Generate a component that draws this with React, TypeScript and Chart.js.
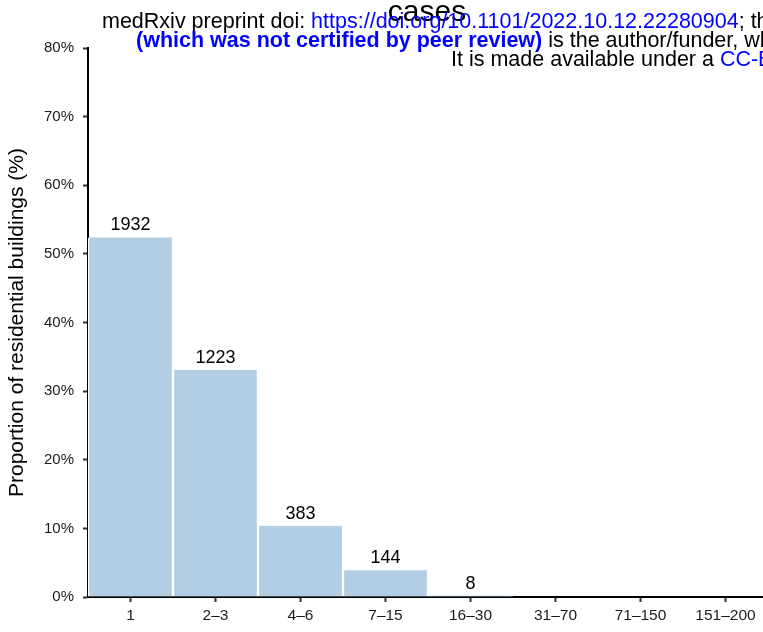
import React, { useEffect, useRef } from "react";
import { Chart, registerables } from "chart.js";

Chart.register(...registerables);

const categories = ["1", "2–3", "4–6", "7–15", "16–30", "31–70", "71–150", "151–200"];
const proportions = [52.4, 33.1, 10.4, 3.9, 0.2, 0, 0, 0];
const counts: (number | null)[] = [1932, 1223, 383, 144, 8, null, null, null];
const yTicks = [0, 10, 20, 30, 40, 50, 60, 70, 80];

const chartTitle = "cases";
const yTitle = "Proportion of residential buildings (%)";

const FONT = "'Liberation Sans', Arial, Helvetica, sans-serif";

const overlayPlugin = {
  id: "overlay",
  afterDatasetsDraw(chart: any) {
    const ctx = chart.ctx;
    const meta = chart.getDatasetMeta(0);
    ctx.save();
    ctx.fillStyle = "#000";
    ctx.font = `18px ${FONT}`;
    ctx.textAlign = "center";
    ctx.textBaseline = "alphabetic";
    meta.data.forEach((bar: any, i: number) => {
      const c = counts[i];
      if (c === null) return;
      ctx.fillText(String(c), bar.x, bar.y - 7);
    });
    ctx.restore();
  },
  afterDraw(chart: any) {
    const ctx = chart.ctx;
    const area = chart.chartArea;
    ctx.save();
    ctx.translate(17, (area.top + area.bottom) / 2);
    ctx.rotate(-Math.PI / 2);
    ctx.font = `21px ${FONT}`;
    ctx.fillStyle = "#000";
    ctx.textAlign = "center";
    ctx.textBaseline = "middle";
    ctx.fillText(yTitle, 0, 0);
    ctx.restore();

    ctx.save();
    ctx.font = `30px ${FONT}`;
    ctx.fillStyle = "#000";
    ctx.textAlign = "center";
    ctx.textBaseline = "alphabetic";
    ctx.fillText(chartTitle, 427, 21);
    ctx.restore();

    const drawRuns = (x: number, y: number, runs: { t: string; c: string; b?: boolean }[]) => {
      let cx = x;
      runs.forEach((r) => {
        ctx.font = `${r.b ? "bold " : ""}21.5px ${FONT}`;
        ctx.fillStyle = r.c;
        ctx.fillText(r.t, cx, y);
        cx += ctx.measureText(r.t).width;
      });
    };
    ctx.save();
    ctx.textAlign = "left";
    ctx.textBaseline = "alphabetic";
    drawRuns(102, 28, [
      { t: "medRxiv preprint doi: ", c: "#000" },
      { t: "https://doi.org/10.1101/2022.10.12.22280904", c: "#0000ff" },
      { t: "; this version posted October 14, 2022.", c: "#000" },
    ]);
    drawRuns(136, 47, [
      { t: "(which was not certified by peer review)", c: "#0000ff", b: true },
      { t: " is the author/funder, who has granted medRxiv a license", c: "#000" },
    ]);
    drawRuns(451, 66, [
      { t: "It is made available under a ", c: "#000" },
      { t: "CC-BY-NC-ND 4.0", c: "#0000ff" },
    ]);
    ctx.restore();
  },
};

export default function App() {
  const ref = useRef<HTMLCanvasElement>(null);
  useEffect(() => {
    if (!ref.current) return;
    const chart = new Chart(ref.current, {
      type: "bar",
      data: {
        labels: categories,
        datasets: [
          {
            data: proportions,
            backgroundColor: "#b3cde3",
            borderColor: "#ffffff",
            borderWidth: { left: 1.5, right: 1.5, top: 0, bottom: 0 } as any,
            borderSkipped: false,
            barPercentage: 1,
            categoryPercentage: 1,
          },
        ],
      },
      options: {
        animation: false,
        responsive: false,
        maintainAspectRatio: false,
        layout: { padding: { top: 48, right: 0, left: 0, bottom: 0 } },
        plugins: { legend: { display: false }, tooltip: { enabled: false }, title: { display: false } },
        scales: {
          x: {
            type: "category",
            offset: true,
            z: 1,
            grid: {
              display: true,
              offset: false,
              drawOnChartArea: false,
              drawTicks: true,
              tickLength: 5,
              tickWidth: 2,
              tickColor: "#333",
            } as any,
            border: { display: true, color: "#000", width: 2 },
            ticks: {
              color: "#1a1a1a",
              font: { family: FONT, size: 15.5 },
              padding: 4,
              maxRotation: 0,
              autoSkip: false,
            },
            afterFit: (s: any) => {
              s.height = 35;
            },
          },
          y: {
            min: 0,
            max: 80,
            z: 1,
            afterBuildTicks: (s: any) => {
              s.ticks = yTicks.map((v) => ({ value: v }));
            },
            grid: {
              display: true,
              drawOnChartArea: false,
              drawTicks: true,
              tickLength: 5,
              tickWidth: 2,
              tickColor: "#333",
            } as any,
            border: { display: true, color: "#000", width: 2 },
            ticks: {
              color: "#1a1a1a",
              font: { family: FONT, size: 15 },
              padding: 9,
              callback: (v: any) => `${v}%`,
            },
            afterFit: (s: any) => {
              s.width = 88;
            },
          },
        },
      },
      plugins: [overlayPlugin],
    });
    return () => chart.destroy();
  }, []);
  return (
    <div
      style={{
        position: "fixed",
        left: 0,
        top: 0,
        width: 763,
        height: 632,
        overflow: "hidden",
        background: "#fff",
      }}
    >
      <canvas ref={ref} width={768} height={632} style={{ position: "absolute", left: 0, top: 0 }} />
    </div>
  );
}
